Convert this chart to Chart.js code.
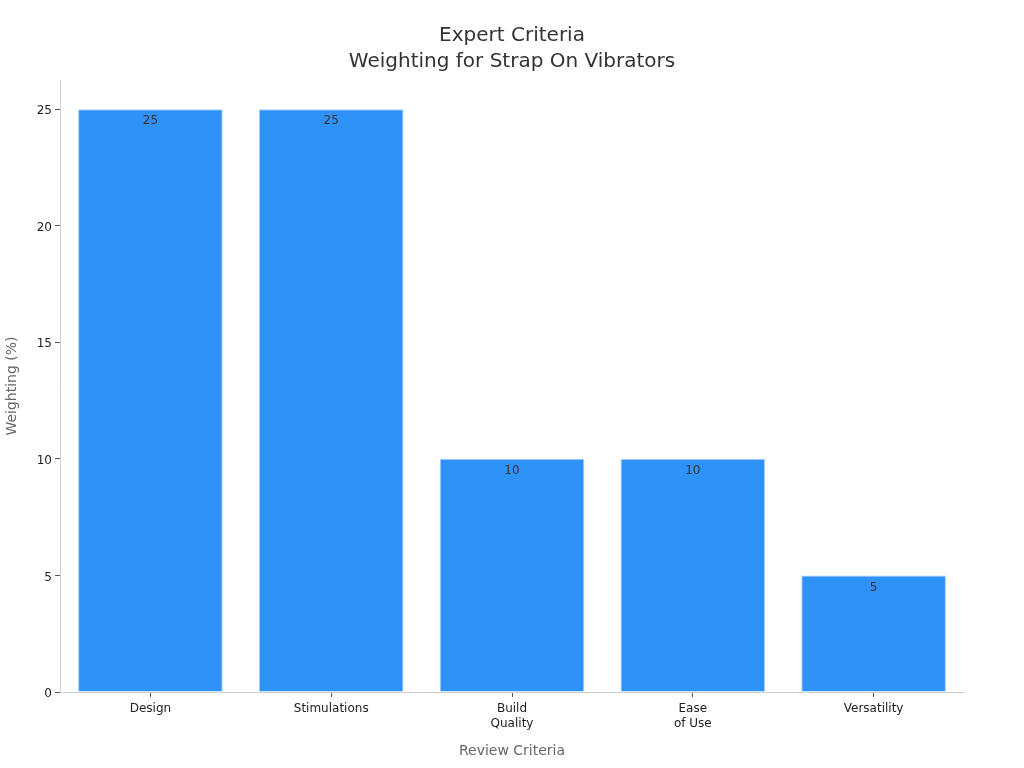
<!DOCTYPE html>
<html>
<head>
<meta charset="utf-8">
<script src="https://cdn.jsdelivr.net/npm/chart.js@4"></script>
<style>
  html, body { margin: 0; padding: 0; background: #fff; }
  #wrap { width: 1024px; height: 768px; }
</style>
</head>
<body>
<div id="wrap"><canvas id="chart" width="1024" height="768"></canvas></div>
<script>
// ===== data =====
const categories = [["Design"], ["Stimulations"], ["Build", "Quality"], ["Ease", "of Use"], ["Versatility"]];
const weights = [25, 25, 10, 10, 5];
const yTicks = [0, 5, 10, 15, 20, 25];

const FONT = "DejaVu Sans";

// value labels just inside the top of each bar
const barLabels = {
  id: "barLabels",
  afterDatasetsDraw(chart) {
    const ctx = chart.ctx;
    const meta = chart.getDatasetMeta(0);
    ctx.save();
    ctx.font = "12px '" + FONT + "'";
    ctx.fillStyle = "#333";
    ctx.textAlign = "center";
    ctx.textBaseline = "middle";
    meta.data.forEach((bar, i) => {
      ctx.fillText(String(weights[i]), bar.x, bar.y + 12);
    });
    ctx.restore();
  }
};

new Chart(document.getElementById("chart"), {
  type: "bar",
  data: {
    labels: categories,
    datasets: [{
      label: "Weighting (%)",
      data: weights,
      backgroundColor: "#2f92f8",
      borderColor: "#a9d0fa",
      borderWidth: 1,
      borderSkipped: "bottom",
      barPercentage: 0.8,
      categoryPercentage: 1.0
    }]
  },
  options: {
    responsive: false,
    animation: false,
    layout: { padding: 0 },
    plugins: {
      legend: { display: false },
      tooltip: { enabled: false },
      title: {
        display: true,
        text: ["Expert Criteria", "Weighting for Strap On Vibrators"],
        color: "#333",
        font: { family: FONT, size: 20, weight: "normal", lineHeight: 1.3 },
        padding: { top: 23, bottom: 5 }
      }
    },
    scales: {
      x: {
        grid: { display: true, offset: false, drawOnChartArea: false, drawTicks: true, tickLength: 5, tickColor: "#555" },
        border: { display: true, color: "#d0d0d0" },
        ticks: { color: "#222", font: { family: FONT, size: 12 }, padding: 5, maxRotation: 0 },
        title: {
          display: true, text: "Review Criteria", color: "#666",
          font: { family: FONT, size: 14 }, padding: { top: 0, bottom: 8 }
        },
        afterFit(axis) { axis.height = 76; }
      },
      y: {
        min: 0, max: 26.25,
        grid: { display: true, drawOnChartArea: false, drawTicks: true, tickLength: 5, tickColor: "#555" },
        border: { display: true, color: "#d0d0d0" },
        ticks: { color: "#222", font: { family: FONT, size: 12 }, padding: 3, labelOffset: 2 },
        afterBuildTicks(axis) { axis.ticks = yTicks.map(v => ({ value: v })); },
        title: {
          display: true, text: "Weighting (%)", color: "#666",
          font: { family: FONT, size: 14 }, padding: { top: 4, bottom: 0 }
        },
        afterFit(axis) { axis.width = 60; }
      },
      // empty right-hand spacer so the title stays centred on the page
      yRight: {
        position: "right",
        display: true,
        grid: { display: false },
        border: { display: false },
        ticks: { display: false },
        afterFit(axis) { axis.width = 60; }
      }
    }
  },
  plugins: [barLabels]
});
</script>
</body>
</html>
